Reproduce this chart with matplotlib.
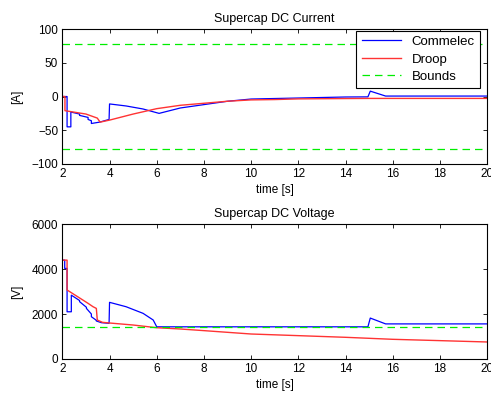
import matplotlib.pyplot as plt

plt.rcParams['font.family'] = ['Liberation Sans', 'DejaVu Sans']
plt.rcParams['font.size'] = 8.5

# Supercap DC current [A]
t_i_comm = [2.0, 2.2, 2.2, 2.36, 2.36, 2.73, 2.73, 3.09, 3.09, 3.23, 3.23, 3.58, 3.98, 4.0,
            4.7, 5.42, 6.1, 7.0, 8.0, 9.0, 10.0, 12.0, 14.0, 14.95, 15.05, 15.7, 20.0]
i_comm = [0, 0, -45, -45, -23, -26, -28, -31, -34, -36, -40, -38, -34, -11,
          -14, -18.5, -25, -17, -12, -7, -3.7, -2.2, -0.7, -0.5, 8, 0.7, 0.7]

t_i_droop = [2.0, 2.11, 2.11, 3.0, 3.48, 3.6, 4.0, 5.0, 6.0, 7.0, 8.0, 9.0,
             10.0, 11.0, 12.0, 14.0, 15.0, 20.0]
i_droop = [0, 0, -21, -26, -32, -38, -35, -26, -18, -13, -10, -7,
           -5, -4.5, -3.5, -3, -2.8, -2.8]

i_bounds = [78, -78]

# Supercap DC voltage [V]
t_v_comm = [2.0, 2.1, 2.1, 2.2, 2.2, 2.38, 2.38, 2.73, 2.73, 3.02, 3.02, 3.23, 3.23,
            3.44, 3.44, 3.65, 3.98, 4.0, 4.7, 5.42, 5.85, 6.0, 14.95, 15.05, 15.7, 20.0]
v_comm = [4400, 4400, 4030, 4030, 2100, 2100, 2840, 2600, 2550, 2300, 2250, 2000, 1880,
          1720, 1690, 1615, 1585, 2520, 2325, 2030, 1733, 1430, 1430, 1820, 1560, 1560]

t_v_droop = [2.0, 2.2, 2.2, 3.09, 3.3, 3.44, 3.48, 3.7, 4.0, 5.0, 6.0, 7.0, 8.0, 9.0,
             10.0, 12.0, 14.0, 16.0, 18.0, 20.0]
v_droop = [4400, 4400, 3070, 2475, 2325, 2250, 1733, 1630, 1600, 1510, 1390, 1333, 1260, 1185,
           1110, 1037, 963, 874, 815, 755]

v_bound = 1430

fig = plt.figure(figsize=(4.91, 3.94), dpi=100)
ax1 = fig.add_axes([0.127, 0.584, 0.865, 0.342])
ax2 = fig.add_axes([0.127, 0.089, 0.865, 0.342])

ax1.plot(t_i_comm, i_comm, color='#0000ff', lw=0.9, label='Commelec')
ax1.plot(t_i_droop, i_droop, color='#ff3333', lw=1.0, label='Droop')
ax1.plot([2, 20], [i_bounds[0]] * 2, color='#00ee00', lw=0.9, dashes=(6, 4), label='Bounds')
ax1.plot([2, 20], [i_bounds[1]] * 2, color='#00ee00', lw=0.9, dashes=(6, 4))
ax1.set_ylim(-100, 100)
ax1.set_yticks([-100, -50, 0, 50, 100])
ax1.set_title('Supercap DC Current', fontsize=9, pad=5)
ax1.set_ylabel('[A]', labelpad=6)
leg = ax1.legend(loc='upper right', bbox_to_anchor=(0.984, 0.99), fancybox=False,
                 edgecolor='black', framealpha=1, fontsize=9.5, handlelength=3.0,
                 borderaxespad=0, labelspacing=0.4)
leg.get_frame().set_linewidth(0.8)

ax2.plot(t_v_comm, v_comm, color='#0000ff', lw=0.9)
ax2.plot(t_v_droop, v_droop, color='#ff3333', lw=1.0)
ax2.plot([2, 20], [v_bound] * 2, color='#00ee00', lw=0.9, dashes=(6, 4))
ax2.set_ylim(0, 6000)
ax2.set_yticks([0, 2000, 4000, 6000])
ax2.set_title('Supercap DC Voltage', fontsize=9, pad=5)
ax2.set_ylabel('[V]', labelpad=6)

for ax in (ax1, ax2):
    ax.set_xlim(2, 20)
    ax.set_xticks(range(2, 21, 2))
    ax.set_xlabel('time [s]', labelpad=3)
    ax.tick_params(direction='in', top=True, right=True, length=3, width=0.6, pad=3)
    for s in ax.spines.values():
        s.set_linewidth(0.8)

fig.savefig('out.png', dpi=100)
